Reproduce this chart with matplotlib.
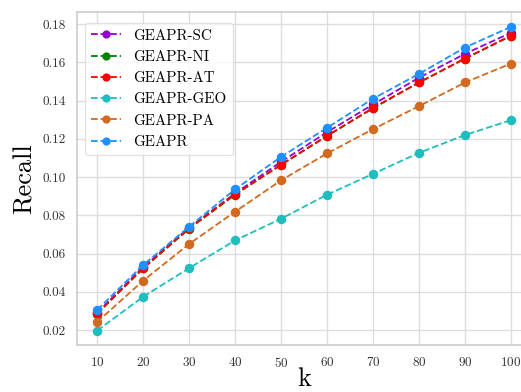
import matplotlib
matplotlib.use("Agg")
import matplotlib.pyplot as plt

k = [10, 20, 30, 40, 50, 60, 70, 80, 90, 100]
recall_sc = [0.0290, 0.0530, 0.0735, 0.0915, 0.1080, 0.1235, 0.1380, 0.1520, 0.1645, 0.1755]
recall_ni = [0.0285, 0.0522, 0.0730, 0.0908, 0.1065, 0.1215, 0.1360, 0.1495, 0.1620, 0.1740]
recall_at = [0.0287, 0.0523, 0.0732, 0.0910, 0.1064, 0.1216, 0.1362, 0.1495, 0.1620, 0.1739]
recall_geo = [0.0197, 0.0374, 0.0524, 0.0669, 0.0782, 0.0908, 0.1017, 0.1127, 0.1220, 0.1298]
recall_pa = [0.0242, 0.0458, 0.0650, 0.0819, 0.0983, 0.1124, 0.1251, 0.1371, 0.1495, 0.1594]
recall_geapr = [0.0305, 0.0540, 0.0740, 0.0936, 0.1106, 0.1258, 0.1410, 0.1540, 0.1678, 0.1786]

series = [
    ("GEAPR-SC", recall_sc, "#9400D3"),
    ("GEAPR-NI", recall_ni, "#008000"),
    ("GEAPR-AT", recall_at, "#FF0000"),
    ("GEAPR-GEO", recall_geo, "#1FBDBD"),
    ("GEAPR-PA", recall_pa, "#D2691E"),
    ("GEAPR", recall_geapr, "#1E90FF"),
]

plt.rcParams['font.family'] = ['cmr10', 'DejaVu Serif']
plt.rcParams['axes.formatter.use_mathtext'] = True
plt.rcParams['mathtext.fontset'] = 'cm'

fig = plt.figure(figsize=(5.21, 3.92), dpi=100)
ax = fig.add_axes([0.148, 0.120, 0.871, 0.849])

for name, vals, col in series:
    ax.plot(k, vals, linestyle='--', marker='o', color=col, label=name,
            markersize=5.8, linewidth=1.3)

ax.set_xlim(5.65, 104.35)
ax.set_ylim(0.0122, 0.1863)
ax.set_xticks(k)
yt = [0.02, 0.04, 0.06, 0.08, 0.10, 0.12, 0.14, 0.16, 0.18]
ax.set_yticks(yt)
ax.set_yticklabels(["%.2f" % v for v in yt])
ax.tick_params(axis='both', labelsize=9.5, colors='#333333', length=0, pad=8)
ax.grid(True, color='#dddddd', linewidth=1.0)
ax.set_axisbelow(True)
for s in ax.spines.values():
    s.set_color('#cccccc')
    s.set_linewidth(1.2)

ax.set_xlabel("k", fontsize=19, labelpad=-2)
ax.set_ylabel("Recall", fontsize=19, labelpad=4)

leg = ax.legend(loc='upper left', fontsize=10.8, frameon=True, fancybox=True,
                handlelength=2.0, borderpad=0.4, labelspacing=0.5,
                handletextpad=0.85, markerscale=0.85,
                bbox_to_anchor=(0.0, 0.99), borderaxespad=0.5)
leg.get_frame().set_edgecolor('#dddddd')

fig.savefig("out.png", dpi=100)
